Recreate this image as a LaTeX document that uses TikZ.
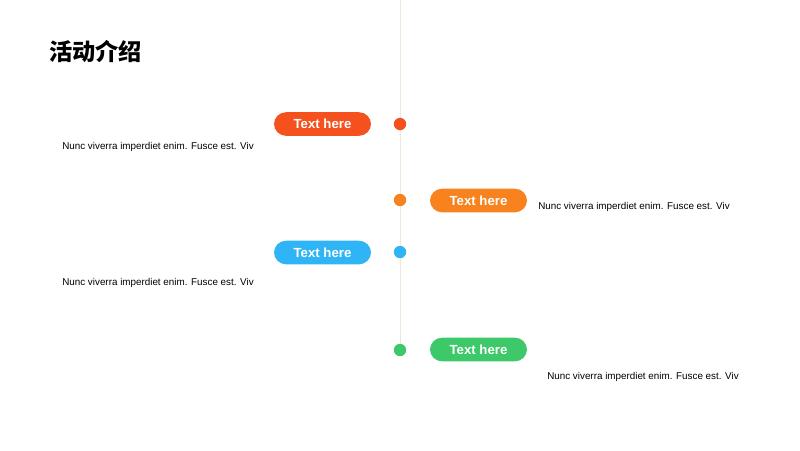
\documentclass[tikz,border=0pt]{standalone}
\usepackage{fontspec}
\setmainfont{Liberation Sans}
\newfontfamily\cjk{Noto Sans CJK SC}
\usetikzlibrary{positioning}

\definecolor{ptred}{HTML}{F4511E}
\definecolor{ptorange}{HTML}{F7821E}
\definecolor{ptblue}{HTML}{2FB5F5}
\definecolor{ptgreen}{HTML}{3DC86A}
\definecolor{ptline}{HTML}{F0E6DA}

\begin{document}
\begin{tikzpicture} [
        x = 0.025cm, y = -0.025cm,
        dot/.style = {circle, fill=#1, inner sep=0pt, minimum size=0.31cm},
        pill/.style = {rounded corners=0.3cm, fill=#1, text=white,
                      minimum width=2.425cm, minimum height=0.59cm,
                      inner sep=0pt, font=\fontsize{9.4}{11}\selectfont\bfseries},
        desc/.style = {anchor=west, inner sep=0pt,% text beside a pill
                      font=\fontsize{7}{8.5}\selectfont}
    ]
    \useasboundingbox (0,0) rectangle (800,450);

    % title
    \node (Title) [anchor=west, inner sep=0pt] at (49,51)
        {\cjk\bfseries\fontsize{16.5}{19}\selectfont 活动介绍};

    % time line
    \coordinate (Top) at (400,0);
    \coordinate (Bottom) at (400,356);
    \draw [ptline, line width=0.6pt] (Top) -- (Bottom);

    % steps
    \node (D1) [dot=ptred]    at (400,124) {};
    \node (D2) [dot=ptorange] at (400,200) {};
    \node (D3) [dot=ptblue]   at (400,252) {};
    \node (D4) [dot=ptgreen]  at (400,350) {};

    \node (P1) [pill=ptred]    at (322.5,124) {Text here};
    \node (P2) [pill=ptorange] at (478.5,200.5) {Text here};
    \node (P3) [pill=ptblue]   at (322.5,252.5) {Text here};
    \node (P4) [pill=ptgreen]  at (478.5,349.5) {Text here};

    \node (T1) [desc] at (62,146.5) {Nunc viverra imperdiet enim. Fusce est. Viv};
    \node (T2) [desc] at (538,206.5) {Nunc viverra imperdiet enim. Fusce est. Viv};
    \node (T3) [desc] at (62,282.5) {Nunc viverra imperdiet enim. Fusce est. Viv};
    \node (T4) [desc] at (547,376.5) {Nunc viverra imperdiet enim. Fusce est. Viv};
\end{tikzpicture}
\end{document}
